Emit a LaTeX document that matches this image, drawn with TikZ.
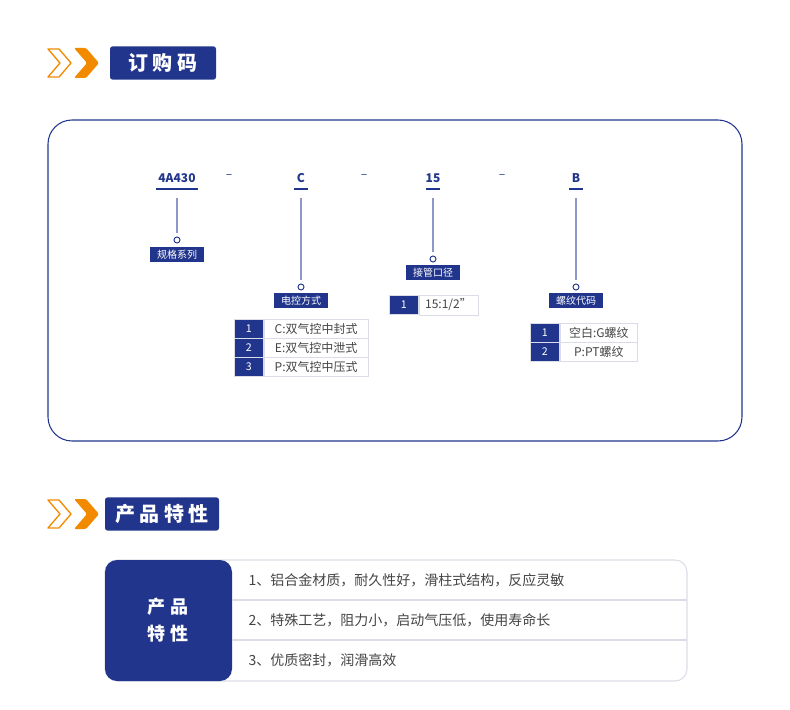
\documentclass[tikz,border=0pt]{standalone}
\usepackage{fontspec}
\setmainfont{Noto Sans CJK SC}
\usetikzlibrary{positioning}
\definecolor{navy}{HTML}{21358C}
\definecolor{chev}{HTML}{F28A00}
\definecolor{grid}{HTML}{DADDE6}
\definecolor{stem}{HTML}{8E98C8}
\definecolor{txt}{HTML}{444444}
\begin{document}
\begin{tikzpicture}[x=0.75pt,y=-0.75pt,
	title/.style={fill=navy, rounded corners=2pt, text=white, font=\bfseries\fontsize{15}{15}\selectfont, inner sep=0pt, minimum height=25pt},
	code/.style={text=navy, font=\bfseries\fontsize{9}{9}\selectfont, inner sep=1pt},
	tag/.style={fill=navy, text=white, font=\fontsize{7.5}{8}\selectfont, inner sep=0pt, minimum width=40pt, minimum height=11.5pt},
	num/.style={draw=grid, fill=navy, text=white, font=\fontsize{8}{8}\selectfont, inner sep=0pt, minimum width=22pt, minimum height=14.5pt, anchor=west},
	cell/.style={draw=grid, text=txt, font=\fontsize{9}{9}\selectfont, inner sep=3pt, minimum height=14.5pt, anchor=west, right=0pt of #1},
	stemline/.style={stem, line width=1.2pt},
	dot/.style={circle, draw=navy, line width=0.7pt, inner sep=0pt, minimum size=4.5pt},
	]
	\useasboundingbox (0,0) rectangle (790,710);
	% headers
	\foreach \y in {63,514}{
		\draw[chev, line width=1pt, line join=round] (48,\y-14) -- (59,\y-14) -- (71,\y) -- (59,\y+14) -- (48,\y+14) -- (60,\y) -- cycle;
		\fill[chev, rounded corners=1pt] (74,\y-15) -- (86,\y-15) -- (99,\y) -- (86,\y+15) -- (74,\y+15) -- (87,\y) -- cycle;
	}
	\node[title, minimum width=79.5pt] (t1) at (163,63) {订 购 码};
	\node[title, minimum width=85.5pt] (t2) at (162,514) {产 品 特 性};
	% frame
	\draw[navy, rounded corners=18pt, line width=0.8pt] (48,120) rectangle (742,441);
	% codes
	\foreach \x/\c/\n/\w in {177/4A430/a/42, 301/C/b/14, 433/15/c/14, 576/B/d/14}{
		\node[code] (\n) at (\x,178) {\c};
		\draw[navy, line width=1.5pt] (\x-\w/2,189) -- (\x+\w/2,189);
	}
	\foreach \x [count=\i] in {229,364,502}
		\node[text=navy, font=\fontsize{9}{9}\selectfont] (dash\i) at (\x,177) {–};
	% stems and tags
	\foreach \n/\x/\ye/\ty/\lab in {a/177/233/254.5/规格系列, b/301/280/300.5/电控方式, c/433/252/272.5/接管口径, d/576/280/300.5/螺纹代码}{
		\coordinate (\n top) at (\x,198);
		\node[dot] (\n dot) at (\x,\ye+7) {};
		\draw[stemline] (\n top) -- (\x,\ye);
		\node[tag] (\n tag) at (\x,\ty) {\lab};
	}
	% option tables
	\node[num] (b1) at (234,328.5) {1}; \node[cell=b1, minimum width=78pt] (b1t) {C:双气控中封式};
	\node[num] (b2) at (234,347.5) {2}; \node[cell=b2, minimum width=78pt] (b2t) {E:双气控中泄式};
	\node[num] (b3) at (234,367) {3}; \node[cell=b3, minimum width=78pt] (b3t) {P:双气控中压式};
	\node[num] (c1) at (389,305) {1}; \node[cell=c1, minimum width=44pt] (c1t) {15:1/2”};
	\node[num] (d1) at (530,332.5) {1}; \node[cell=d1, minimum width=58pt] (d1t) {空白:G螺纹};
	\node[num] (d2) at (530,351.5) {2}; \node[cell=d2, minimum width=58pt] (d2t) {P:PT螺纹};
	% features
	\draw[grid, rounded corners=9pt, line width=0.8pt] (105,560) rectangle (687,681);
	\fill[navy, rounded corners=9pt] (105,560) -- (232,560) -- (232,681) -- (105,681) -- cycle;
	\draw[grid, line width=0.8pt] (232,600) -- (687,600) (232,640) -- (687,640);
	\node[text=white, font=\bfseries\fontsize{13.5}{20}\selectfont, align=center] (feat) at (168,620) {产 品\\特 性};
	\foreach \y/\t [count=\i] in {580/{1、铝合金材质，耐久性好，滑柱式结构，反应灵敏}, 620/{2、特殊工艺，阻力小，启动气压低，使用寿命长}, 660/{3、优质密封，润滑高效}}
		\node[text=txt, font=\fontsize{10.5}{11}\selectfont, anchor=west] (f\i) at (244,\y) {\t};
\end{tikzpicture}
\end{document}
